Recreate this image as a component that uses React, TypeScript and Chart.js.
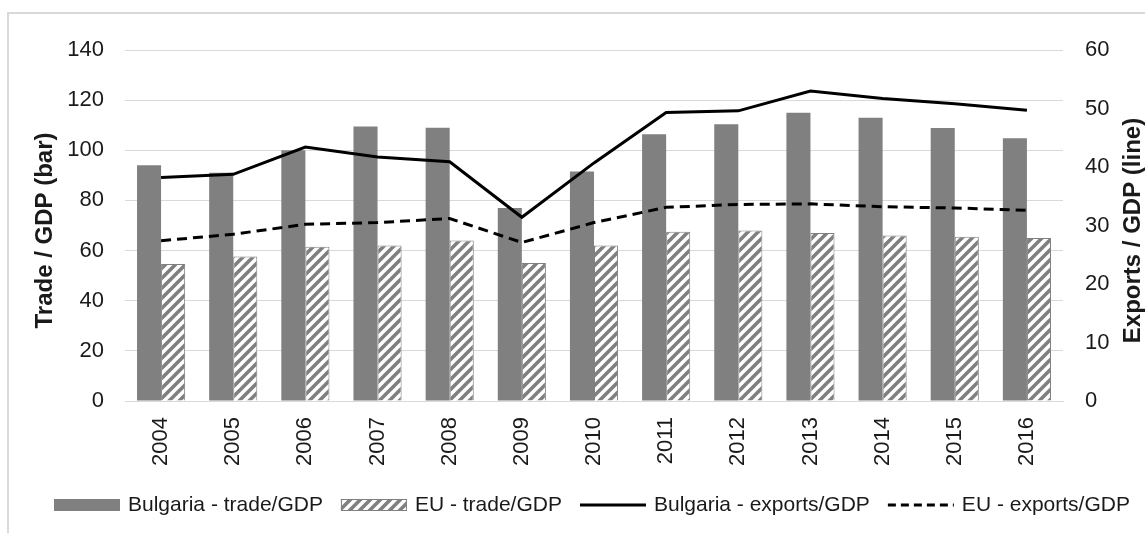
import React, { useEffect, useRef } from "react";
import { Chart, registerables } from "chart.js";

Chart.register(...registerables);

const years = ["2004", "2005", "2006", "2007", "2008", "2009", "2010", "2011", "2012", "2013", "2014", "2015", "2016"];
const bgTrade = [94, 91, 100, 109.5, 109, 77, 91.5, 106.4, 110.4, 115, 113, 108.9, 104.8];
const euTrade = [54.6, 57.6, 61.5, 62, 64, 55, 62, 67.5, 68, 67, 66, 65.5, 65];
const bgExports = [38.2, 38.75, 43.4, 41.7, 40.9, 31.4, 40.7, 49.3, 49.6, 53.0, 51.7, 50.8, 49.7];
const euExports = [27.4, 28.5, 30.2, 30.5, 31.2, 27.1, 30.5, 33.1, 33.6, 33.7, 33.2, 33.0, 32.6];
const leftTicks = [0, 20, 40, 60, 80, 100, 120, 140];
const rightTicks = [0, 10, 20, 30, 40, 50, 60];
const legendLabels = ["Bulgaria - trade/GDP", "EU - trade/GDP", "Bulgaria - exports/GDP", "EU - exports/GDP"];
const leftTitle = "Trade / GDP (bar)";
const rightTitle = "Exports / GDP (line)";

const GRAY = "#808080";
const TEXT = "#1a1a1a";
const FONT = "'Liberation Sans', Arial, sans-serif";

function makeHatch(ctx: CanvasRenderingContext2D): CanvasPattern | string {
  const s = 10;
  const c = document.createElement("canvas");
  c.width = s;
  c.height = s;
  const p = c.getContext("2d");
  if (!p) return GRAY;
  p.fillStyle = "#ffffff";
  p.fillRect(0, 0, s, s);
  p.strokeStyle = GRAY;
  p.lineWidth = 3.6;
  p.beginPath();
  for (let k = -1; k <= 1; k++) {
    p.moveTo(-2 + k * s, s + 2);
    p.lineTo(s + 2 + k * s, -2);
  }
  p.stroke();
  return ctx.createPattern(c, "repeat") || GRAY;
}

export default function App() {
  const ref = useRef<HTMLCanvasElement | null>(null);

  useEffect(() => {
    const canvas = ref.current;
    if (!canvas) return;
    const ctx = canvas.getContext("2d");
    if (!ctx) return;
    const hatch = makeHatch(ctx);

    const overlay = {
      id: "overlay",
      afterDraw(chart: any) {
        const c = chart.ctx as CanvasRenderingContext2D;
        const area = chart.chartArea;
        const midY = (area.top + area.bottom) / 2 + 5;
        c.save();
        c.fillStyle = TEXT;
        c.font = `bold 24px ${FONT}`;
        c.textAlign = "center";
        c.textBaseline = "middle";
        c.save();
        c.translate(45, midY);
        c.rotate(-Math.PI / 2);
        c.fillText(leftTitle, 0, 0);
        c.restore();
        c.save();
        c.translate(1133, midY);
        c.rotate(-Math.PI / 2);
        c.fillText(rightTitle, 0, 0);
        c.restore();

        c.font = `21px ${FONT}`;
        c.textAlign = "left";
        c.textBaseline = "middle";
        const ly = 505;
        let x = 54;
        const symW = 66;
        legendLabels.forEach((label, i) => {
          if (i === 0) {
            c.fillStyle = GRAY;
            c.fillRect(x, ly - 6, symW, 12);
          } else if (i === 1) {
            c.fillStyle = hatch as any;
            c.fillRect(x, ly - 6, symW, 12);
            c.strokeStyle = GRAY;
            c.lineWidth = 1;
            c.strokeRect(x + 0.5, ly - 5.5, symW - 1, 11);
          } else {
            c.strokeStyle = "#000000";
            c.lineWidth = 3;
            c.setLineDash(i === 3 ? [8, 5] : []);
            c.beginPath();
            c.moveTo(x, ly);
            c.lineTo(x + symW, ly);
            c.stroke();
            c.setLineDash([]);
          }
          c.fillStyle = TEXT;
          c.fillText(label, x + symW + 8, ly);
          x += symW + 8 + c.measureText(label).width + 18;
        });
        c.restore();
      },
    };

    const chart = new Chart(ctx, {
      type: "bar",
      data: {
        labels: years,
        datasets: [
          {
            type: "line",
            label: legendLabels[2],
            data: bgExports,
            yAxisID: "y1",
            borderColor: "#000000",
            borderWidth: 3,
            pointRadius: 0,
            tension: 0,
            fill: false,
            order: 0,
          } as any,
          {
            type: "line",
            label: legendLabels[3],
            data: euExports,
            yAxisID: "y1",
            borderColor: "#000000",
            borderWidth: 3,
            borderDash: [10, 6],
            pointRadius: 0,
            tension: 0,
            fill: false,
            order: 1,
          } as any,
          {
            type: "bar",
            label: legendLabels[0],
            data: bgTrade,
            yAxisID: "y",
            backgroundColor: GRAY,
            borderWidth: 0,
            categoryPercentage: 0.667,
            barPercentage: 1.0,
            order: 2,
          },
          {
            type: "bar",
            label: legendLabels[1],
            data: euTrade,
            yAxisID: "y",
            backgroundColor: hatch as any,
            borderColor: GRAY,
            borderWidth: 1,
            categoryPercentage: 0.667,
            barPercentage: 1.0,
            order: 3,
          },
        ],
      },
      options: {
        animation: false,
        responsive: false,
        maintainAspectRatio: false,
        layout: { padding: { top: 50, bottom: 0, left: 0, right: 0 } },
        plugins: {
          legend: { display: false },
          tooltip: { enabled: false },
        },
        scales: {
          x: {
            grid: { display: false, drawTicks: false },
            border: { display: true, color: "#d9d9d9", width: 1 },
            ticks: {
              color: TEXT,
              font: { family: FONT, size: 22 },
              minRotation: 90,
              maxRotation: 90,
              padding: 16,
            },
            afterFit(scale: any) {
              scale.height = 132;
            },
          },
          y: {
            position: "left",
            min: 0,
            max: 140,
            afterBuildTicks(scale: any) {
              scale.ticks = leftTicks.map((v) => ({ value: v }));
            },
            grid: { color: "#d9d9d9", lineWidth: 1, drawTicks: false },
            border: { display: false },
            ticks: {
              color: TEXT,
              font: { family: FONT, size: 22 },
              padding: 21,
            },
            afterFit(scale: any) {
              scale.width = 125;
            },
          },
          y1: {
            position: "right",
            min: 0,
            max: 60,
            afterBuildTicks(scale: any) {
              scale.ticks = rightTicks.map((v) => ({ value: v }));
            },
            grid: { display: false, drawTicks: false },
            border: { display: false },
            ticks: {
              color: TEXT,
              font: { family: FONT, size: 22 },
              padding: 22,
            },
            afterFit(scale: any) {
              scale.width = 82;
            },
          },
        },
      },
      plugins: [overlay],
    });

    return () => chart.destroy();
  }, []);

  return (
    <div style={{ position: "fixed", left: 0, top: 0, width: 1145, height: 533, background: "#ffffff" }}>
      <div
        style={{
          position: "absolute",
          left: 7,
          top: 12,
          width: 1160,
          height: 560,
          borderLeft: "2px solid #d9d9d9",
          borderTop: "2px solid #d9d9d9",
        }}
      />
      <canvas ref={ref} width={1145} height={533} style={{ position: "absolute", left: 0, top: 0, width: 1145, height: 533 }} />
    </div>
  );
}
